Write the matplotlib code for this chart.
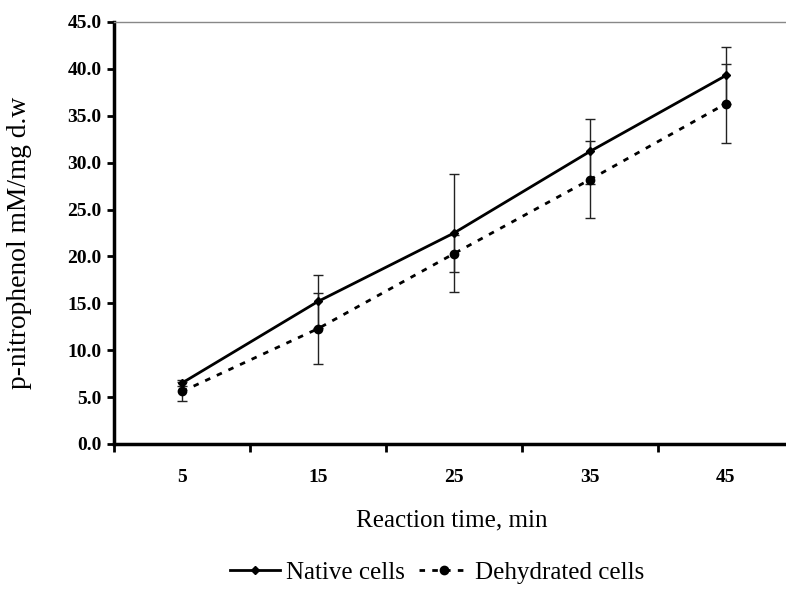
import numpy as np
import matplotlib.pyplot as plt
from matplotlib.lines import Line2D

# reaction times (min) and p-nitrophenol release
times = ["5", "15", "25", "35", "45"]
native = [6.5, 15.2, 22.5, 31.2, 39.3]
native_err = [0.3, 2.8, 6.3, 3.5, 3.0]
dehydrated = [5.6, 12.3, 20.3, 28.2, 36.3]
dehydrated_err = [1.0, 3.8, 2.0, 4.1, 4.2]
yticks = [0, 5, 10, 15, 20, 25, 30, 35, 40, 45]

plt.rcParams['font.family'] = ['Liberation Serif', 'DejaVu Serif']

fig = plt.figure(figsize=(7.86, 5.90), dpi=100)
ax = fig.add_axes([114 / 786, 1 - 444 / 590, 680 / 786, 422 / 590])

x = np.arange(1, len(times) + 1)
dash = (0, (2.0, 2.6))

ax.errorbar(x, native, yerr=native_err, color='black', lw=2, marker='D', ms=4.5,
            ecolor='#222222', elinewidth=1, capsize=3.6, capthick=1, zorder=3)
ax.errorbar(x, dehydrated, yerr=dehydrated_err, color='black', lw=2,
            linestyle=dash, marker='o', ms=6,
            ecolor='#222222', elinewidth=1, capsize=3.6, capthick=1, zorder=3)

ax.set_xlim(0.5, 5.5)
ax.set_ylim(0, 45)
ax.set_yticks(yticks)
ax.set_yticklabels([f"{v:.1f}" for v in yticks], fontweight='bold', fontsize=14)

# category axis: ticks sit between the categories, labels centred on them
ax.set_xticks(np.arange(0.5, 6.0, 1.0))
ax.set_xticklabels([])
ax.set_xticks(x, minor=True)
ax.set_xticklabels(times, minor=True, fontweight='bold', fontsize=14)
ax.tick_params(axis='x', which='minor', length=0, pad=18)
ax.tick_params(axis='x', which='major', length=6, width=2, direction='out')
ax.tick_params(axis='y', length=5, width=2, direction='out', pad=4)

ax.spines['left'].set_linewidth(2.5)
ax.spines['bottom'].set_linewidth(2.5)
ax.spines['top'].set_color('#888888')
ax.spines['top'].set_linewidth(1)
ax.spines['right'].set_visible(False)

ax.set_ylabel('p-nitrophenol mM/mg d.w', fontsize=19.8)
ax.yaxis.set_label_coords(-0.12, 0.476)
ax.set_xlabel('Reaction time, min', fontsize=18)
ax.xaxis.set_label_coords(0.497, -0.155)

handles = [
    Line2D([], [], color='black', lw=2, marker='D', ms=4.5),
    Line2D([], [], color='black', lw=2, linestyle=dash, marker='o', ms=6),
]
ax.legend(handles, ['Native cells', 'Dehydrated cells'], loc='center',
          bbox_to_anchor=(0.475, -0.304), ncol=2, frameon=False, fontsize=18,
          handlelength=2.0, columnspacing=0.56, handletextpad=0.24)

fig.savefig('out.png', dpi=100)
